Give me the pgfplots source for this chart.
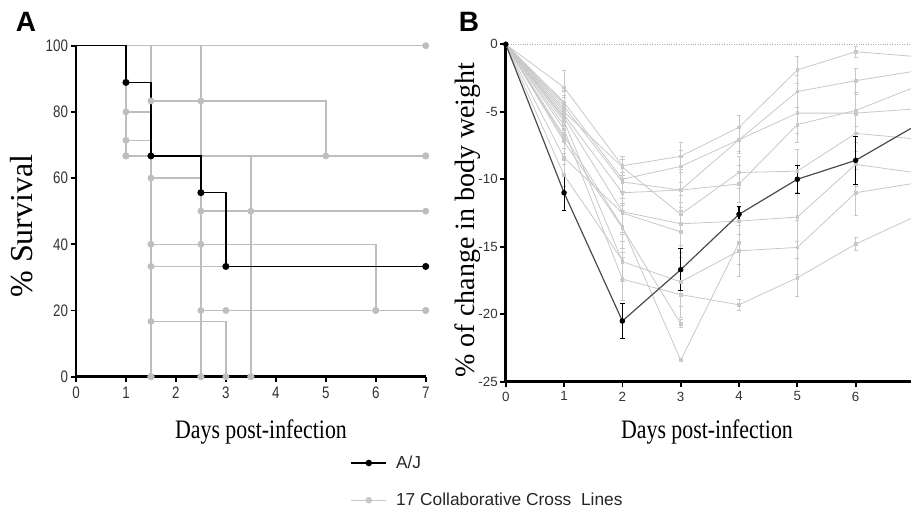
\documentclass[border=0pt]{standalone}
\usepackage{fontspec}
\setmainfont{Liberation Sans}
\newfontfamily\serif{Liberation Serif}
\newfontfamily\serifnarrow{Liberation Serif}[FakeStretch=0.82]
\newfontfamily\narrow{Liberation Sans}[FakeStretch=0.8]
\usepackage{pgfplots}
\pgfplotsset{compat=1.18}

\definecolor{ccA}{RGB}{190,190,190}
\definecolor{ccB}{RGB}{200,200,200}
\definecolor{ajB}{RGB}{75,75,75}

\pgfplotsset{
  prism/.style={
    scale only axis, anchor=south west,
    axis lines=left, axis line style={line width=2pt, -},
    tick style={line width=1.3pt, black}, major tick length=4pt, tick align=outside,
    clip=false,
    /pgf/number format/assume math mode=true,
  },
  survA/.style={const plot, ccA, line width=1.1pt, mark=*, mark size=2pt,
    mark options={ccA}, mark indices={2,3,4,5,6,7}, forget plot},
  wtB/.style={ccB, line width=0.6pt, mark=square*, mark size=1pt, mark options={ccB},
    forget plot,
    error bars/.cd, y dir=both, y explicit,
    error bar style={ccB, line width=0.6pt},
    error mark options={ccB, rotate=90, mark size=1.6pt, line width=0.6pt}},
}

\begin{document}
\begin{tikzpicture}
\useasboundingbox (0,0) rectangle (683.25pt,384pt);
\clip (0,0) rectangle (683.25pt,384pt);

% ---------------- panel A: survival
\begin{axis}[prism, at={(57pt,101.5pt)}, width=262.3pt, height=248.25pt,
  xmin=0, xmax=7, ymin=0, ymax=100,
  xtick={0,...,7}, ytick={0,20,...,100},
  tick label style={font=\narrow\fontsize{12.5}{12.5}\selectfont, text=black!80},
  yticklabel style={xshift=1.5pt},
  legend style={at={(0.786,-0.317)}, anchor=west, draw=none, fill=none,
    inner sep=0pt, outer sep=0pt, row sep=13pt,
    font=\fontsize{13}{15}\selectfont, text=black!85,
    /tikz/every odd column/.append style={column sep=5pt}},
  legend cell align=left,
  legend image code/.code={\draw[#1, mark repeat=2, mark phase=2]
    plot coordinates {(0pt,0pt) (13pt,0pt) (26pt,0pt)};},
]
\addlegendimage{black, line width=0.9pt, mark=*, mark size=2pt}
\addlegendentry{A/J}
\addlegendimage{ccB, line width=0.9pt, mark=*, mark size=2pt, mark options={ccB}}
\addlegendentry{17 Collaborative Cross\ \ Lines}

\addplot[survA] coordinates {(0,100)(7,100)};
\addplot[survA] coordinates {(0,100)(1,80)(1.5,0)};
\addplot[survA] coordinates {(0,100)(1,71.4)(1.5,0)};
\addplot[survA] coordinates {(0,100)(1,66.7)(7,66.7)};
\addplot[survA] coordinates {(0,100)(1,66.7)(3.5,0)};
\addplot[survA] coordinates {(0,100)(1.5,83.3)(2.5,83.3)(5,66.7)(7,66.7)};
\addplot[survA] coordinates {(0,100)(1.5,60)(2.5,0)};
\addplot[survA] coordinates {(0,100)(1.5,40)(2.5,40)(6,20)(7,20)};
\addplot[survA] coordinates {(0,100)(1.5,33.3)(3.5,0)};
\addplot[survA] coordinates {(0,100)(1.5,16.7)(3,0)};
\addplot[survA] coordinates {(0,100)(2.5,50)(3.5,50)(7,50)};
\addplot[survA] coordinates {(0,100)(2.5,20)(3,20)(6,20)(7,20)};
\addplot[survA] coordinates {(0,100)(2.5,0)};
\addplot[survA] coordinates {(0,100)(1.5,0)};
% A/J
\addplot[const plot, black, line width=1.2pt, mark=*, mark size=2pt,
  mark indices={2,3,4,5,6}, forget plot]
  coordinates {(0,100)(1,88.9)(1.5,66.7)(2.5,55.6)(3,33.3)(7,33.3)};
\end{axis}

% ---------------- panel B: body weight
\begin{axis}[prism, at={(379.3pt,97.7pt)}, width=304pt, height=253.1pt,
  xmin=0, xmax=6.95, ymin=-25, ymax=0,
  xtick={0,...,6}, ytick={-25,-20,...,0},
  tick label style={font=\fontsize{10}{10}\selectfont, text=black!80},
  yticklabel style={xshift=1.5pt},
]
\addplot[densely dotted, gray!70, line width=0.8pt, forget plot] coordinates {(0,0)(7,0)};

\addplot[wtB] coordinates {(0,0) (1,-3.2) +- (0,1.3) (2,-9.0) +- (0,0.5) (3,-8.3) +- (0,1.0) (4,-6.15) +- (0,0.9) (5,-1.9) +- (0,1.0) (6,-0.55) +- (0,0.4) (7,-0.9) +- (0,0.5)};
\addplot[wtB] coordinates {(0,0) (1,-4.3) +- (0,1.2) (2,-10.0) +- (0,1.0) (3,-9.05) +- (0,1.2) (4,-7.07) +- (0,1.0) (5,-3.5) +- (0,1.2) (6,-2.7) +- (0,0.9) (7,-2.0) +- (0,0.8)};
\addplot[wtB] coordinates {(0,0) (1,-4.6) +- (0,1.1) (2,-10.2) +- (0,1.2) (3,-10.8) +- (0,1.3) (4,-7.07) +- (0,0.9) (5,-5.1) +- (0,1.5) (6,-5.1) +- (0,1.5) (7,-4.8) +- (0,1.0)};
\addplot[wtB] coordinates {(0,0) (1,-5.0) +- (0,1.2) (2,-9.1) +- (0,0.8) (3,-12.6) +- (0,1.4) (4,-9.5) +- (0,1.2) (5,-9.4) +- (0,1.6) (6,-6.6) +- (0,1.3) (7,-7.0) +- (0,1.0)};
\addplot[wtB] coordinates {(0,0) (1,-5.2) +- (0,1.3) (2,-11.0) +- (0,1.3) (3,-10.8) +- (0,1.5) (4,-10.35) +- (0,1.4) (5,-5.95) +- (0,1.3) (6,-4.9) +- (0,1.2) (7,-3.2) +- (0,1.0)};
\addplot[wtB] coordinates {(0,0) (1,-5.4) +- (0,1.2) (2,-12.4) +- (0,1.5) (3,-13.3) +- (0,1.6) (4,-13.1) +- (0,1.0) (5,-12.8) +- (0,1.8) (6,-8.9) +- (0,1.6) (7,-9.5) +- (0,1.2)};
\addplot[wtB] coordinates {(0,0) (1,-5.7) +- (0,1.3) (2,-16.1) +- (0,1.5) (3,-17.6) +- (0,1.8) (4,-15.3) +- (0,1.9) (5,-15.05) +- (0,2.0) (6,-11.0) +- (0,1.7) (7,-10.3) +- (0,1.2)};
\addplot[wtB] coordinates {(0,0) (1,-6.3) +- (0,1.4) (2,-17.4) +- (0,1.6) (3,-18.55) +- (0,1.7) (4,-19.3) +- (0,0.4) (5,-17.3) +- (0,1.4) (6,-14.8) +- (0,0.5) (7,-12.8) +- (0,0.8)};
\addplot[wtB] coordinates {(0,0) (1,-6.8) +- (0,1.5) (2,-13.5) +- (0,1.6) (3,-23.4) +- (0,0.1) (4,-14.7) +- (0,1.6)};
\addplot[wtB] coordinates {(0,0) (1,-7.2) +- (0,1.4) (2,-13.6) +- (0,1.8) (3,-20.7) +- (0,0.3)};
\addplot[wtB] coordinates {(0,0) (1,-8.4) +- (0,1.2) (2,-12.5) +- (0,1.6) (3,-13.9) +- (0,1.5)};
\addplot[wtB] coordinates {(0,0) (1,-9.7) +- (0,0.8) (2,-16.0) +- (0,1.4)};
\addplot[wtB] coordinates {(0,0) (1,-4.4) +- (0,1.0)};
\addplot[wtB] coordinates {(0,0) (1,-6.0) +- (0,1.2)};
\addplot[wtB] coordinates {(0,0) (1,-7.0) +- (0,1.1)};
\addplot[wtB] coordinates {(0,0) (1,-5.5) +- (0,1.0)};
\addplot[wtB] coordinates {(0,0) (1,-4.8) +- (0,1.3)};

% A/J
\addplot[ajB, line width=0.9pt, mark=*, mark size=1.6pt, mark options={black},
  forget plot, error bars/.cd, y dir=both, y explicit,
  error bar style={black, line width=0.8pt},
  error mark options={black, rotate=90, mark size=1.8pt, line width=0.8pt}]
  coordinates {(0,0) (1,-11.0) +- (0,1.3) (2,-20.5) +- (0,1.3) (3,-16.7) +- (0,1.55)
    (4,-12.6) +- (0,0.6) (5,-10.0) +- (0,1.05) (6,-8.6) +- (0,1.8) (7,-6.1) +- (0,1.0)};
\end{axis}

% ---------------- labels (positions in reference pixels)
\begin{scope}[x=0.75pt, y=-0.75pt, shift={(0pt,384pt)}]
\node[font=\bfseries\fontsize{21}{21}\selectfont] at (26,22) {A};
\node[font=\bfseries\fontsize{21}{21}\selectfont] at (469,22) {B};
\node[font=\serifnarrow\fontsize{20}{20}\selectfont] at (261,432) {Days post-infection};
\node[font=\serifnarrow\fontsize{20}{20}\selectfont] at (707,432) {Days post-infection};
\node[font=\serif\fontsize{24}{24}\selectfont, rotate=90] at (22,226) {\% Survival};
\node[font=\serif\fontsize{21}{21}\selectfont, rotate=90] at (468,220) {\% of change in body weight};
\end{scope}
\end{tikzpicture}
\end{document}
